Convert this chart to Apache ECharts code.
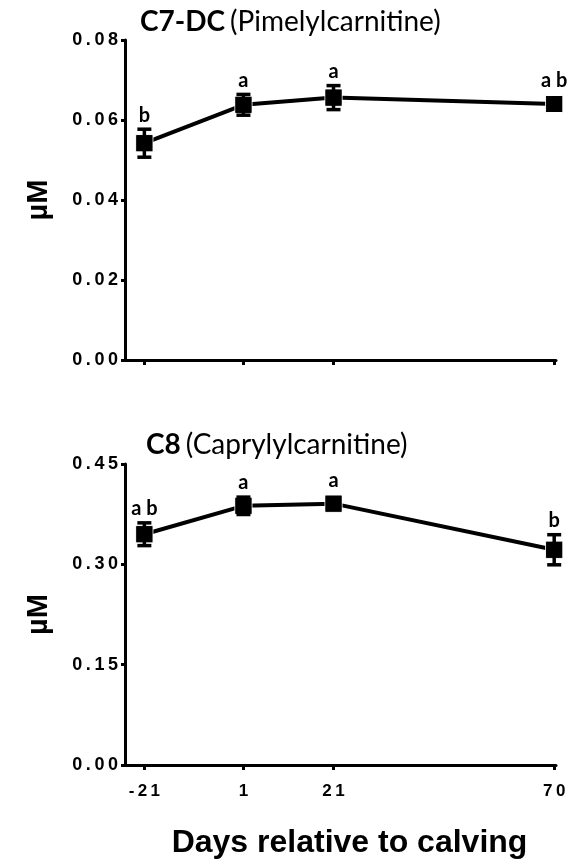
<!DOCTYPE html>
<html>
<head>
<meta charset="utf-8">
<script src="https://cdn.jsdelivr.net/npm/echarts@6/dist/echarts.min.js"></script>
<style>
  html, body { margin: 0; padding: 0; background: #fff; }
  #chart { width: 573px; height: 860px; }
</style>
</head>
<body>
<div id="chart"></div>
<script>
// Sampling days relative to calving
const days = [-21, 1, 21, 70];
const dayTicks = [-21, 1, 21, 70];

// C7-DC (pimelylcarnitine), mean ± SEM, µM
const c7dcMean = [0.0542, 0.0638, 0.0656, 0.0640];
const c7dcSem = [0.0035, 0.0026, 0.0030, 0.0010];
const c7dcLetters = ['b', 'a', 'a', 'a b'];
const c7dcAxis = [0, 0.08, 0.02];

// C8 (caprylylcarnitine), mean ± SEM, µM
const c8Mean = [0.345, 0.3875, 0.3907, 0.3218];
const c8Sem = [0.017, 0.013, 0.008, 0.0225];
const c8Letters = ['a b', 'a', 'a', 'b'];
const c8Axis = [0, 0.45, 0.15];

const ARIAL = '"Liberation Sans", Arial, sans-serif';
const CAL = 'Lato, "Open Sans", sans-serif';

function spaced(s) {
  return String(s).split('').join('\u2009');
}

function xAxisFor(gridIndex, showLabels) {
  return {
    type: 'value',
    gridIndex: gridIndex,
    min: -25.3,
    max: 70.4,
    splitLine: { show: false },
    axisLine: { show: true, onZero: false, lineStyle: { color: '#000', width: 3 } },
    axisTick: { show: true, customValues: dayTicks, length: 5, lineStyle: { color: '#000', width: 3 } },
    axisLabel: {
      show: showLabels,
      customValues: dayTicks,
      margin: 18,
      color: '#000',
      fontFamily: ARIAL,
      fontWeight: 'bold',
      fontSize: 17,
      formatter: v => spaced(v)
    },
    name: showLabels ? 'Days relative to calving' : '',
    nameLocation: 'middle',
    nameGap: 62,
    nameTextStyle: {
      color: '#000', fontFamily: ARIAL, fontWeight: 'bold', fontSize: 32,
      padding: [0, 0, 0, 18]
    }
  };
}

function yAxisFor(gridIndex, range) {
  return {
    type: 'value',
    gridIndex: gridIndex,
    min: range[0],
    max: range[1],
    interval: range[2],
    splitLine: { show: false },
    axisLine: { show: true, onZero: false, lineStyle: { color: '#000', width: 3 } },
    axisTick: { show: true, length: 4, lineStyle: { color: '#000', width: 3 } },
    axisLabel: {
      margin: 7,
      color: '#000',
      fontFamily: ARIAL,
      fontWeight: 'bold',
      fontSize: 18,
      formatter: v => spaced(v.toFixed(2))
    },
    name: 'µM',
    nameLocation: 'middle',
    nameRotate: 90,
    nameGap: 72,
    nameTextStyle: { color: '#000', fontFamily: ARIAL, fontWeight: 'bold', fontSize: 29 }
  };
}

function meanSeries(idx, mean) {
  return {
    type: 'line',
    xAxisIndex: idx,
    yAxisIndex: idx,
    data: days.map((d, i) => [d, mean[i]]),
    symbol: 'rect',
    symbolSize: [17, 17],
    showSymbol: true,
    itemStyle: { color: '#000', borderColor: '#fff', borderWidth: 1 },
    lineStyle: { color: '#000', width: 4 },
    emphasis: { disabled: true },
    z: 3
  };
}

function errorSeries(idx, mean, sem, letters) {
  return {
    type: 'custom',
    xAxisIndex: idx,
    yAxisIndex: idx,
    data: days.map((d, i) => [d, mean[i], sem[i]]),
    z: 4,
    renderItem: function (params, api) {
      const x = api.value(0), m = api.value(1), s = api.value(2);
      const c = api.coord([x, m]);
      const hi = api.coord([x, m + s]);
      const lo = api.coord([x, m - s]);
      const top = Math.min(hi[1], c[1] - 9);
      const stroke = { stroke: '#000', lineWidth: 3.5 };
      return {
        type: 'group',
        children: [
          { type: 'line', shape: { x1: c[0], y1: hi[1], x2: c[0], y2: lo[1] }, style: stroke },
          { type: 'line', shape: { x1: c[0] - 7, y1: hi[1], x2: c[0] + 7, y2: hi[1] }, style: stroke },
          { type: 'line', shape: { x1: c[0] - 7, y1: lo[1], x2: c[0] + 7, y2: lo[1] }, style: stroke },
          { type: 'rect', shape: { x: c[0] - 8, y: c[1] - 8, width: 16, height: 16 }, style: { fill: '#000' } },
          {
            type: 'text',
            x: c[0],
            y: top - 14,
            style: {
              text: letters[params.dataIndex],
              fill: '#000',
              font: 'bold 20px ' + CAL,
              align: 'center',
              verticalAlign: 'middle'
            }
          }
        ]
      };
    }
  };
}

const chart = echarts.init(document.getElementById('chart'), null, { renderer: 'canvas' });

chart.setOption({
  animation: false,
  backgroundColor: '#fff',
  title: [
    {
      text: '{b|C7-DC} {r|(Pimelylcarnitine)}',
      left: 135,
      top: 3,
      textStyle: {
        rich: {
          b: { fontFamily: CAL, fontWeight: 'bold', fontSize: 28, color: '#000' },
          r: { fontFamily: CAL, fontWeight: 'normal', fontSize: 28, color: '#000' }
        }
      }
    },
    {
      text: '{b|C8} {r|(Caprylylcarnitine)}',
      left: 141,
      top: 426,
      textStyle: {
        rich: {
          b: { fontFamily: CAL, fontWeight: 'bold', fontSize: 28, color: '#000' },
          r: { fontFamily: CAL, fontWeight: 'normal', fontSize: 28, color: '#000' }
        }
      }
    }
  ],
  grid: [
    { left: 125, top: 40, width: 431, height: 320 },
    { left: 125, top: 464, width: 431, height: 302 }
  ],
  xAxis: [xAxisFor(0, false), xAxisFor(1, true)],
  yAxis: [yAxisFor(0, c7dcAxis), yAxisFor(1, c8Axis)],
  series: [
    meanSeries(0, c7dcMean),
    errorSeries(0, c7dcMean, c7dcSem, c7dcLetters),
    meanSeries(1, c8Mean),
    errorSeries(1, c8Mean, c8Sem, c8Letters)
  ]
});
</script>
</body>
</html>
